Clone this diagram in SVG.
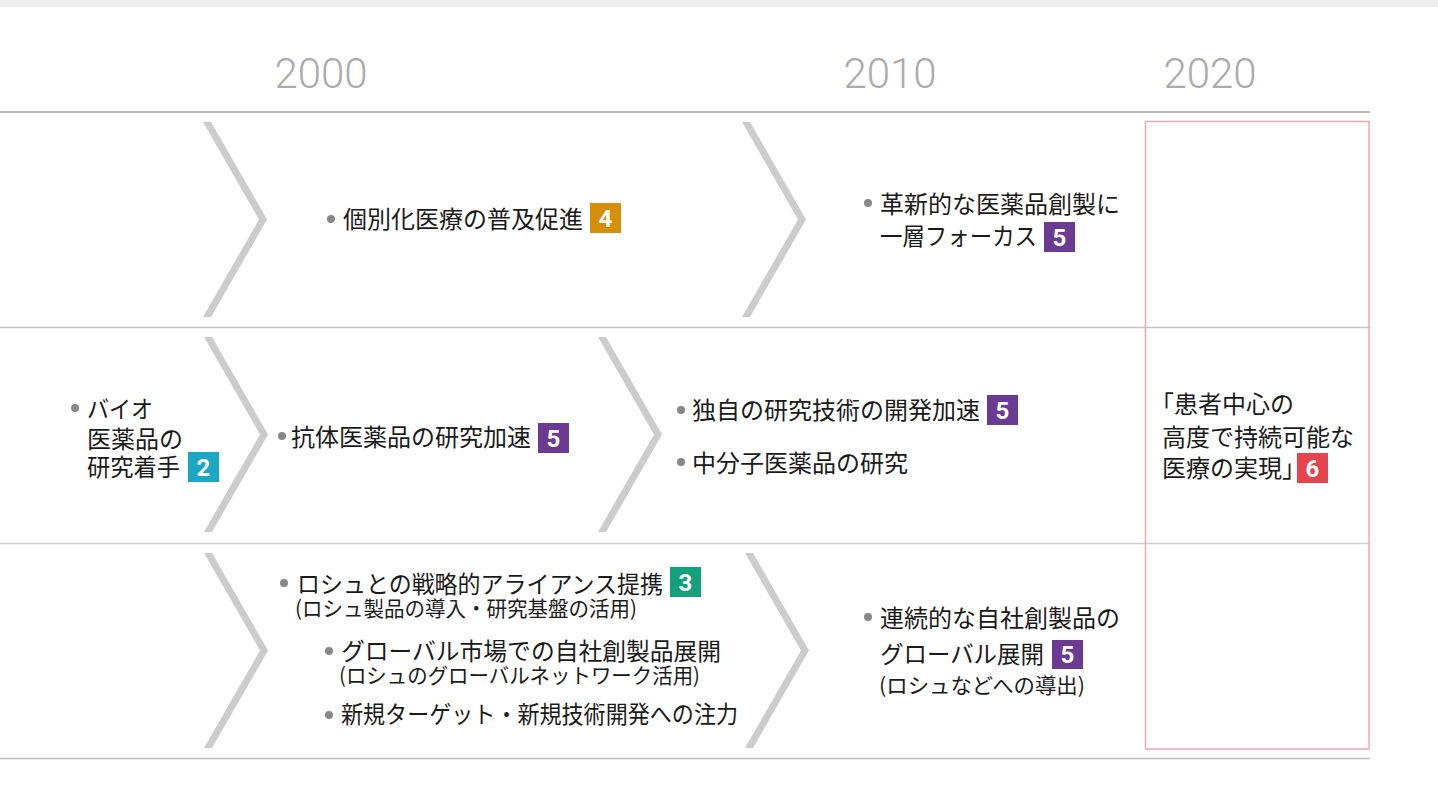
<svg xmlns="http://www.w3.org/2000/svg" xmlns:xlink="http://www.w3.org/1999/xlink" width="1438" height="810" viewBox="0 0 1438 810">
  <style>
    .yr { font-family: Roboto, "Liberation Sans", sans-serif; font-weight: 300; font-size: 42px; fill: #ababab; text-anchor: middle; }
    .t { font-family: "Noto Sans CJK JP", "Noto Sans CJK SC", sans-serif; font-size: 24px; fill: #1a1a1a; }
    .s { font-family: "Noto Sans CJK JP", "Noto Sans CJK SC", sans-serif; font-size: 21px; fill: #1a1a1a; }
    .dot { fill: #888888; }
    .bn { font-family: "Liberation Sans Narrow", Roboto, "Liberation Sans", sans-serif; font-weight: bold; font-size: 24px; fill: #ffffff; text-anchor: middle; }
    .chev { fill: #cccccc; }
    .rule { stroke-width: 1.5; fill: none; }
  </style>
  <defs>
    <polygon id="chev" class="chev" points="0,0 8,0 64,97.5 8,195 0,195 56,97.5"/>
  </defs>

  <rect x="0" y="0" width="1438" height="810" fill="#ffffff"/>
  <rect x="0" y="0" width="1438" height="7" fill="#efefef"/>

  <!-- years -->
  <g id="years">
    <text class="yr" x="321" y="88">2000</text>
    <text class="yr" x="890" y="88">2010</text>
    <text class="yr" x="1210" y="88">2020</text>
  </g>

  <!-- grid lines -->
  <g id="grid">
    <line class="rule" x1="0" y1="112" x2="1370" y2="112" stroke="#a0a0a0"/>
    <line class="rule" x1="0" y1="327.5" x2="1370" y2="327.5" stroke="#c4c4c4"/>
    <line class="rule" x1="0" y1="543.5" x2="1370" y2="543.5" stroke="#cfcfcf"/>
    <line class="rule" x1="0" y1="758.5" x2="1370" y2="758.5" stroke="#bdbdbd"/>
  </g>

  <!-- goal frame -->
  <rect id="goal-frame" x="1145.5" y="121.5" width="223.5" height="627.5" fill="none" stroke="#f3a7ae" stroke-width="1.5"/>

  <!-- connectors (chevrons) -->
  <g id="connectors">
    <use xlink:href="#chev" href="#chev" x="203" y="122"/>
    <use xlink:href="#chev" href="#chev" x="742" y="122"/>
    <use xlink:href="#chev" href="#chev" x="204" y="337"/>
    <use xlink:href="#chev" href="#chev" x="598" y="337"/>
    <use xlink:href="#chev" href="#chev" x="204" y="553"/>
    <use xlink:href="#chev" href="#chev" x="745" y="553"/>
  </g>

  <!-- row 1 -->
  <g id="n-personalized">
    <circle class="dot" cx="331" cy="219" r="4"/>
    <text class="t" x="343" y="228">個別化医療の普及促進</text>
    <rect x="590" y="203" width="31" height="30" fill="#d68f0a"/>
    <text class="bn" x="605.5" y="227">4</text>
  </g>
  <g id="n-innovative">
    <circle class="dot" cx="868" cy="203" r="4"/>
    <text class="t" x="880" y="213">革新的な医薬品創製に</text>
    <text class="t" x="880" y="245" textLength="157" lengthAdjust="spacingAndGlyphs">一層フォーカス</text>
    <rect x="1044" y="222" width="31" height="30" fill="#6b3a93"/>
    <text class="bn" x="1059.5" y="246">5</text>
  </g>

  <!-- row 2 -->
  <g id="n-bio">
    <circle class="dot" cx="75" cy="408" r="4"/>
    <text class="t" x="87" y="418" textLength="66" lengthAdjust="spacingAndGlyphs">バイオ</text>
    <text class="t" x="87" y="448">医薬品の</text>
    <text class="t" x="87" y="476" textLength="93" lengthAdjust="spacingAndGlyphs">研究着手</text>
    <rect x="188" y="452" width="31" height="30" fill="#1ba6c4"/>
    <text class="bn" x="203.5" y="476">2</text>
  </g>
  <g id="n-antibody">
    <circle class="dot" cx="282" cy="436" r="4"/>
    <text class="t" x="291" y="446">抗体医薬品の研究加速</text>
    <rect x="538" y="423" width="31" height="30" fill="#6b3a93"/>
    <text class="bn" x="553.5" y="447">5</text>
  </g>
  <g id="n-tech">
    <circle class="dot" cx="681" cy="410" r="4"/>
    <text class="t" x="692" y="419">独自の研究技術の開発加速</text>
    <rect x="987" y="395" width="31" height="30" fill="#6b3a93"/>
    <text class="bn" x="1002.5" y="419">5</text>
    <circle class="dot" cx="681" cy="462" r="4"/>
    <text class="t" x="692" y="472">中分子医薬品の研究</text>
  </g>
  <g id="n-goal">
    <text class="t" x="1150" y="413">「患者中心の</text>
    <text class="t" x="1162" y="446">高度で持続可能な</text>
    <text class="t" x="1162" y="477">医療の実現」</text>
    <rect x="1297" y="453" width="31" height="30" fill="#e5444f"/>
    <text class="bn" x="1312.5" y="477">6</text>
  </g>

  <!-- row 3 -->
  <g id="n-roche">
    <circle class="dot" cx="284" cy="583" r="4"/>
    <text class="t" x="297" y="593" textLength="366" lengthAdjust="spacingAndGlyphs">ロシュとの戦略的アライアンス提携</text>
    <rect x="670" y="567" width="31" height="30" fill="#14a07a"/>
    <text class="bn" x="685.5" y="591">3</text>
    <text class="s" x="295" y="616" textLength="342" lengthAdjust="spacingAndGlyphs">(ロシュ製品の導入・研究基盤の活用)</text>
    <circle class="dot" cx="329" cy="651" r="4"/>
    <text class="t" x="341" y="660" textLength="380" lengthAdjust="spacingAndGlyphs">グローバル市場での自社創製品展開</text>
    <text class="s" x="339" y="683" textLength="361" lengthAdjust="spacingAndGlyphs">(ロシュのグローバルネットワーク活用)</text>
    <circle class="dot" cx="329" cy="715" r="4"/>
    <text class="t" x="341" y="723" textLength="397" lengthAdjust="spacingAndGlyphs">新規ターゲット・新規技術開発への注力</text>
  </g>
  <g id="n-global">
    <circle class="dot" cx="868" cy="617" r="4"/>
    <text class="t" x="880" y="627">連続的な自社創製品の</text>
    <text class="t" x="880" y="663" textLength="164" lengthAdjust="spacingAndGlyphs">グローバル展開</text>
    <rect x="1052" y="640" width="31" height="29" fill="#6b3a93"/>
    <text class="bn" x="1067.5" y="663">5</text>
    <text class="s" x="879" y="693" textLength="206" lengthAdjust="spacingAndGlyphs">(ロシュなどへの導出)</text>
  </g>
</svg>
